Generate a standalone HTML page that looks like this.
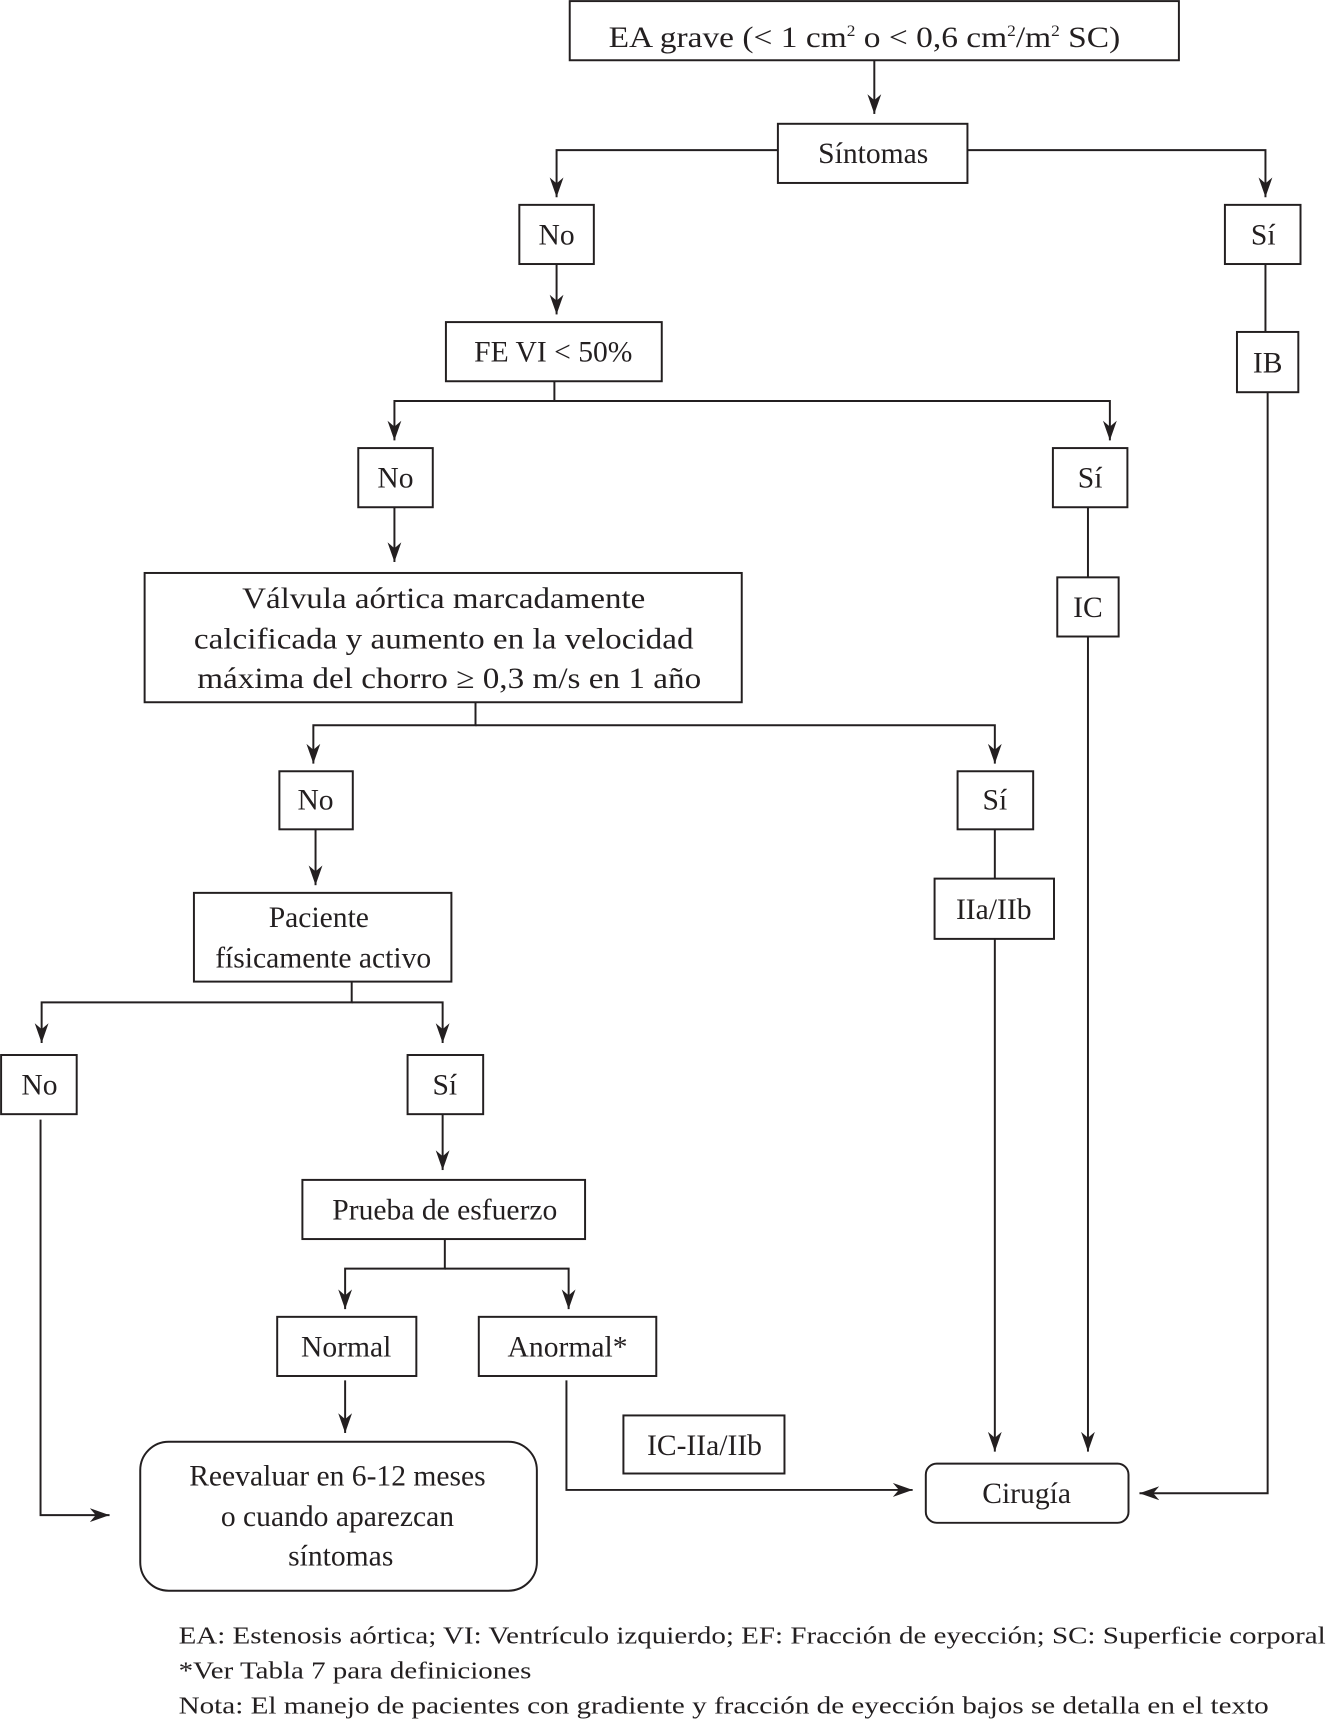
<!DOCTYPE html>
<html><head><meta charset="utf-8"><style>html,body{margin:0;padding:0;background:#fff}svg{display:block}</style></head><body>
<svg width="1329" height="1720" viewBox="0 0 1213 1570" preserveAspectRatio="none" xmlns="http://www.w3.org/2000/svg" font-family="'Liberation Serif', serif" fill="#231f20">
<defs>
<marker id="b" viewBox="0 0 10 10" refX="10" refY="5" markerWidth="18" markerHeight="18" markerUnits="userSpaceOnUse" orient="auto"><path d="M0,1.5 L10,5 L0,8.5 L3,5 z" fill="#231f20"/></marker>
</defs>
<g fill="none" stroke="#231f20" stroke-width="1.8">
<rect x="520" y="1" width="556" height="54"/>
<rect x="710" y="113" width="173" height="54"/>
<rect x="474" y="187" width="68" height="54"/>
<rect x="1118" y="187" width="69" height="54"/>
<rect x="407" y="294" width="197" height="54"/>
<rect x="1129" y="303" width="56" height="55"/>
<rect x="327" y="409" width="68" height="54"/>
<rect x="961" y="409" width="68" height="54"/>
<rect x="965" y="527" width="56" height="54"/>
<rect x="132" y="523" width="545" height="118"/>
<rect x="255" y="704" width="67" height="53"/>
<rect x="874" y="704" width="69" height="53"/>
<rect x="853" y="802" width="109" height="55"/>
<rect x="177" y="815" width="235" height="81"/>
<rect x="1" y="963" width="69" height="54"/>
<rect x="372" y="963" width="69" height="54"/>
<rect x="276" y="1077" width="258" height="54"/>
<rect x="253" y="1202" width="127" height="54"/>
<rect x="437" y="1202" width="162" height="54"/>
<rect x="569" y="1292" width="147" height="53"/>
<rect x="128" y="1316" width="362" height="136" rx="26"/>
<rect x="845" y="1336" width="185" height="54" rx="10"/>

<path d="M798,55 V104" marker-end="url(#b)"/>
<path d="M710,137 H508 V180" marker-end="url(#b)"/>
<path d="M883,137 H1155 V180" marker-end="url(#b)"/>
<path d="M508,241 V287" marker-end="url(#b)"/>
<path d="M1155,241 V303"/>
<path d="M1157,358 V1363 H1040" marker-end="url(#b)"/>
<path d="M506,348 V366 H360 V402" marker-end="url(#b)"/>
<path d="M506,366 H1013 V402" marker-end="url(#b)"/>
<path d="M993,463 V527"/>
<path d="M993,581 V1325" marker-end="url(#b)"/>
<path d="M360,463 V513" marker-end="url(#b)"/>
<path d="M434,641 V662 H286 V697" marker-end="url(#b)"/>
<path d="M434,662 H908 V697" marker-end="url(#b)"/>
<path d="M908,757 V802"/>
<path d="M908,857 V1325" marker-end="url(#b)"/>
<path d="M288,757 V808" marker-end="url(#b)"/>
<path d="M321,896 V915 H38 V952" marker-end="url(#b)"/>
<path d="M321,915 H404 V952" marker-end="url(#b)"/>
<path d="M37,1022 V1383 H100" marker-end="url(#b)"/>
<path d="M404,1017 V1068" marker-end="url(#b)"/>
<path d="M406,1131 V1158 H315 V1195" marker-end="url(#b)"/>
<path d="M406,1158 H519 V1195" marker-end="url(#b)"/>
<path d="M315,1260 V1308" marker-end="url(#b)"/>
<path d="M517,1260 V1360 H833" marker-end="url(#b)"/>
</g>
<g font-size="27" text-anchor="middle">
<text x="789" y="43" textLength="467" lengthAdjust="spacingAndGlyphs">EA grave (&lt; 1 cm<tspan font-size="14" dy="-10">2</tspan><tspan dy="10"> o &lt; 0,6 cm</tspan><tspan font-size="14" dy="-10">2</tspan><tspan dy="10">/m</tspan><tspan font-size="14" dy="-10">2</tspan><tspan dy="10"> SC)</tspan></text>
<text x="797" y="149">Síntomas</text>
<text x="508" y="223">No</text>
<text x="1153" y="223">Sí</text>
<text x="505" y="330">FE VI &lt; 50%</text>
<text x="1157" y="340">IB</text>
<text x="361" y="445">No</text>
<text x="995" y="445">Sí</text>
<text x="993" y="563">IC</text>
<text x="405" y="555" textLength="368" lengthAdjust="spacingAndGlyphs">Válvula aórtica marcadamente</text>
<text x="405" y="592" textLength="456" lengthAdjust="spacingAndGlyphs">calcificada y aumento en la velocidad</text>
<text x="410" y="628" textLength="460" lengthAdjust="spacingAndGlyphs">máxima del chorro ≥ 0,3 m/s en 1 año</text>
<text x="288" y="739">No</text>
<text x="908" y="739">Sí</text>
<text x="907" y="839">IIa/IIb</text>
<text x="291" y="846">Paciente</text>
<text x="295" y="883">físicamente activo</text>
<text x="36" y="999">No</text>
<text x="406" y="999">Sí</text>
<text x="406" y="1113">Prueba de esfuerzo</text>
<text x="316" y="1238">Normal</text>
<text x="518" y="1238">Anormal*</text>
<text x="643" y="1328">IC-IIa/IIb</text>
<text x="308" y="1356">Reevaluar en 6-12 meses</text>
<text x="308" y="1393">o cuando aparezcan</text>
<text x="311" y="1429">síntomas</text>
<text x="937" y="1372">Cirugía</text>
</g>
<g font-size="22">
<text x="163" y="1500" textLength="1047" lengthAdjust="spacingAndGlyphs">EA: Estenosis aórtica; VI: Ventrículo izquierdo; EF: Fracción de eyección; SC: Superficie corporal</text>
<text x="163" y="1532" textLength="322" lengthAdjust="spacingAndGlyphs">*Ver Tabla 7 para definiciones</text>
<text x="163" y="1564" textLength="995" lengthAdjust="spacingAndGlyphs">Nota: El manejo de pacientes con gradiente y fracción de eyección bajos se detalla en el texto</text>
</g>
</svg>
</body></html>
